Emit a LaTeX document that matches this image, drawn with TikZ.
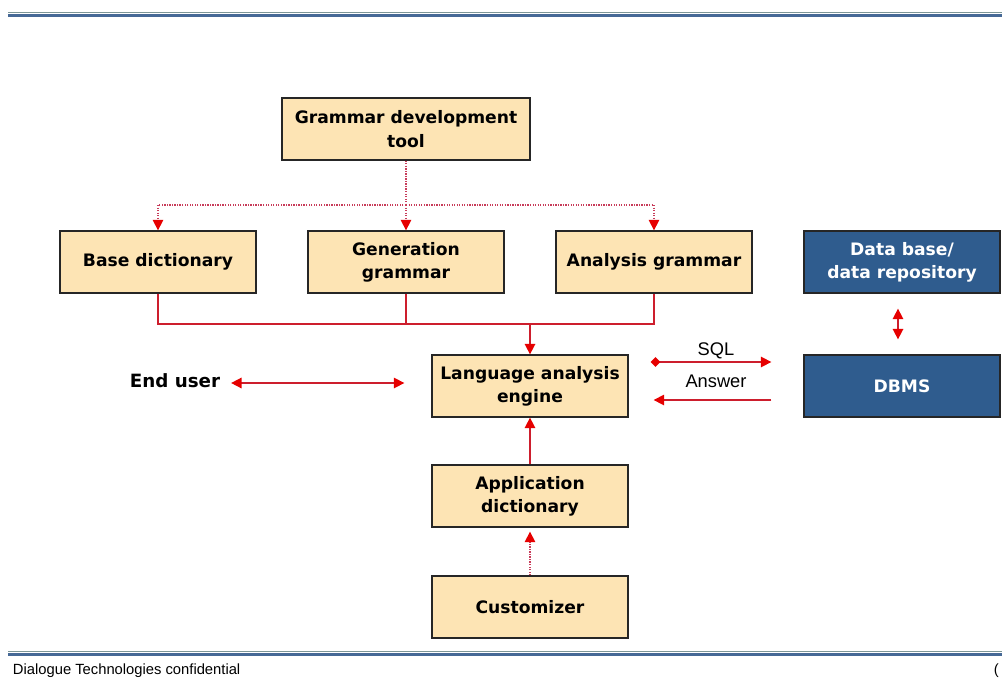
\documentclass[tikz,border=0pt]{standalone}
\usepackage{fontspec}
\setmainfont{DejaVu Sans}
\newfontfamily\labelfont{Liberation Sans}
\usepackage{tikz}
\usetikzlibrary{arrows.meta,positioning,calc}
\usepackage{xcolor}
\definecolor{boxpeach} {RGB}{253,228,180}
\definecolor{boxblue}  {RGB}{ 47, 92,142}
\definecolor{linkred}  {RGB}{205, 30, 45}
\definecolor{tipred}   {RGB}{230,  0,  0}
\definecolor{dotred}   {RGB}{200, 60, 90}
\definecolor{ruleblue} {RGB}{ 70,105,150}
\definecolor{rulegray} {RGB}{125,150,150}

\begin{document}
\begin{tikzpicture}[
  x=0.025cm,y=-0.025cm,
  every node/.style={font=\bfseries\fontsize{12.2}{16.5}\selectfont},
  pbox/.style={draw=black!85,line width=0.9pt,fill=boxpeach,
               minimum width=4.9cm,minimum height=1.55cm,align=center,inner sep=2pt},
  bbox/.style={pbox,fill=boxblue,text=white},
  link/.style={draw=linkred,line width=1.1pt},
  arr/.style={link,-{Triangle[length=2.6mm,width=2.6mm,color=tipred]}},
  dblarr/.style={link,{Triangle[length=2.6mm,width=2.6mm,color=tipred]}-{Triangle[length=2.6mm,width=2.6mm,color=tipred]}},
  dotlink/.style={draw=dotred,line width=0.9pt,dash pattern=on 0.9pt off 0.9pt},
  dotarr/.style={dotlink,-{Triangle[length=2.6mm,width=2.6mm,color=tipred]}},
  lbl/.style={font=\labelfont\fontsize{13}{15}\selectfont},
]
\useasboundingbox (0,0) rectangle (1002,679);

%% header and footer rules
\draw[rulegray,line width=1.2pt] (8,12.5) -- (1002,12.5);
\draw[ruleblue,line width=1.6pt] (8,15.5) -- (1002,15.5);
\draw[rulegray,line width=1.2pt] (8,651.5) -- (1002,651.5);
\draw[ruleblue,line width=1.6pt] (8,654.5) -- (1002,654.5);

%% grammar tool and resources
\node[pbox,minimum width=6.2cm] (GDT) at (406,129) {Grammar development\\tool};
\node[pbox] (BASE) at (158,262) {Base dictionary};
\node[pbox] (GEN) at (406,262) {Generation\\grammar};
\node[pbox] (ANA) at (654,262) {Analysis grammar};
\node[bbox] (DB) at (902,262) {Data base/\\data repository};

%% engine and its neighbours
\node[pbox] (LAE) at (530,386) {Language analysis\\engine};
\node[bbox] (DBMS) at (902,386) {DBMS};
\node[pbox] (APP) at (530,496) {Application\\dictionary};
\node[pbox] (CUST) at (530,607) {Customizer};
\node[font=\bfseries\fontsize{13}{15}\selectfont] (EU) at (175,381) {End user};

%% dotted fan-out from the tool
\coordinate (split) at (406,205);
\draw[dotlink] (GDT.south) -- (split);
\draw[dotarr] (split) -| (BASE.north);
\draw[dotarr] (split) -- (GEN.north);
\draw[dotarr] (split) -| (ANA.north);

%% resources into the engine
\coordinate (bus) at (530,324);
\draw[link] (BASE.south) |- (bus) -| (ANA.south);
\draw[link] (GEN.south) |- (bus);
\draw[arr] (bus) -- (LAE.north);

%% user, database, dictionaries
\draw[dblarr,shorten <=0.15cm,shorten >=0.675cm] ([yshift=-0.05cm]EU.east) -- ([yshift=-0.05cm]EU.east -| LAE.west);
\draw[link,{Diamond[length=2.4mm,width=2.4mm,color=tipred]}-{Triangle[length=2.6mm,width=2.6mm,color=tipred]},
      shorten <=0.55cm,shorten >=0.8cm]
  ([yshift=0.6cm]LAE.east) -- node[lbl,above=-2pt] (SQL) {SQL} ([yshift=0.6cm]DBMS.west);
\draw[arr,shorten <=0.8cm,shorten >=0.625cm]
  ([yshift=-0.35cm]DBMS.west) -- node[lbl,above=5pt] (ANS) {Answer} ([yshift=-0.35cm]LAE.east);
\draw[dblarr,shorten <=0.375cm,shorten >=0.375cm] ([xshift=-0.1cm]DB.south) -- ([xshift=-0.1cm]DBMS.north);
\draw[arr] (APP.north) -- (LAE.south);
\draw[dotarr,shorten >=0.1cm] (CUST.north) -- (APP.south);

%% footer
\node[anchor=west,font=\labelfont\fontsize{10.5}{12}\selectfont] (FOOT) at (8,671) {Dialogue Technologies confidential};
\node[anchor=west,font=\labelfont\fontsize{10.5}{12}\selectfont] (PAGE) at (989,671) {(};

\end{tikzpicture}
\end{document}
